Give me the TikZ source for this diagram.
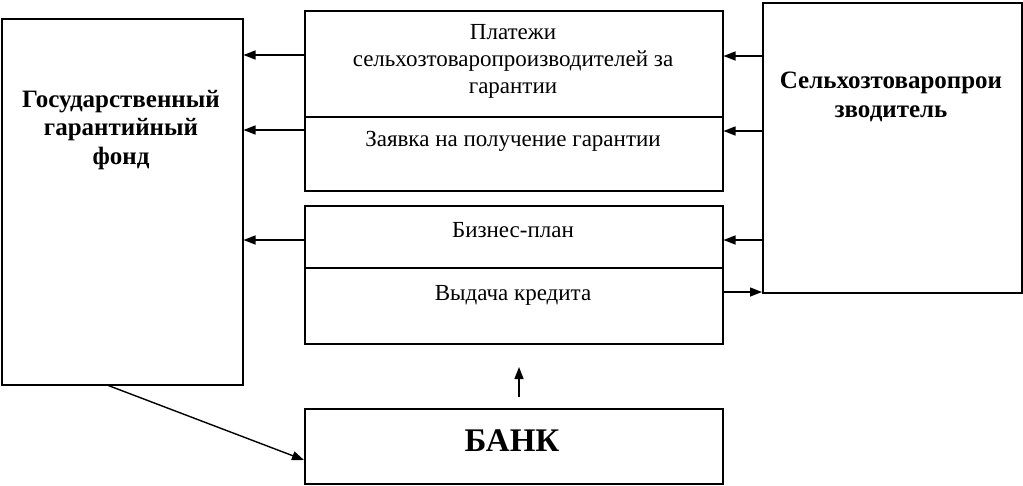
\documentclass[tikz,border=0pt]{standalone}
\usepackage{fontspec}
\setmainfont{Liberation Serif}
\usetikzlibrary{arrows.meta}
\begin{document}
\begin{tikzpicture}[x=1pt,y=-1pt,
  box/.style={draw, line width=1.5pt, rectangle, inner sep=0pt, anchor=north west},
  arr/.style={line width=1.4pt, -{Triangle[length=12pt,width=9pt]}},
  txt/.style={font=\fontsize{23}{27}\selectfont, align=center, inner sep=0pt},
  btxt/.style={font=\fontsize{25}{28.5}\selectfont\bfseries, align=center, inner sep=0pt}]
\useasboundingbox (0,0) rectangle (1023,485);
\node[box, minimum width=241pt, minimum height=366pt] (fund) at (1,18) {};
\node[box, minimum width=418pt, minimum height=180pt] (top) at (304,10) {};
\node[box, minimum width=418pt, minimum height=138pt] (mid) at (304,205) {};
\node[box, minimum width=259pt, minimum height=290pt] (prod) at (762,2) {};
\node[box, minimum width=418pt, minimum height=75pt] (bank) at (304,408) {};
\draw[line width=1.5pt] (top.west |- 0,117) -- (top.east |- 0,117);
\draw[line width=1.5pt] (mid.west |- 0,268) -- (mid.east |- 0,268);
% texts
\node[txt] (t1) at (513,61) {Платежи\\сельхозтоваропроизводителей за\\гарантии};
\node[txt] (t2) at (513,141) {Заявка на получение гарантии};
\node[txt] (t3) at (513,230) {Бизнес-план};
\node[txt] (t4) at (513,295) {Выдача кредита};
\node[btxt] (t5) at (121,130) {Государственный\\гарантийный\\фонд};
\node[btxt] (t6) at (891,97) {Сельхозтоваропрои\\зводитель};
\node[font=\fontsize{33}{38}\selectfont\bfseries, inner sep=0pt] (t7) at (512,441) {БАНК};
% arrows
\draw[arr] (top.west |- 0,55) -- (fund.east |- 0,55);
\draw[arr] (top.west |- 0,130) -- (fund.east |- 0,130);
\draw[arr] (mid.west |- 0,240) -- (fund.east |- 0,240);
\draw[arr] (prod.west |- 0,56) -- (top.east |- 0,56);
\draw[arr] (prod.west |- 0,131) -- (top.east |- 0,131);
\draw[arr] (prod.west |- 0,240) -- (mid.east |- 0,240);
\draw[arr] (mid.east |- 0,292) -- (prod.west |- 0,292);
\coordinate (fb) at (107,385);
\draw[arr] (fb) -- (bank.west |- 0,460);
\coordinate (bu) at (519,397);
\draw[arr] (bu) -- (519,367);
\end{tikzpicture}
\end{document}
